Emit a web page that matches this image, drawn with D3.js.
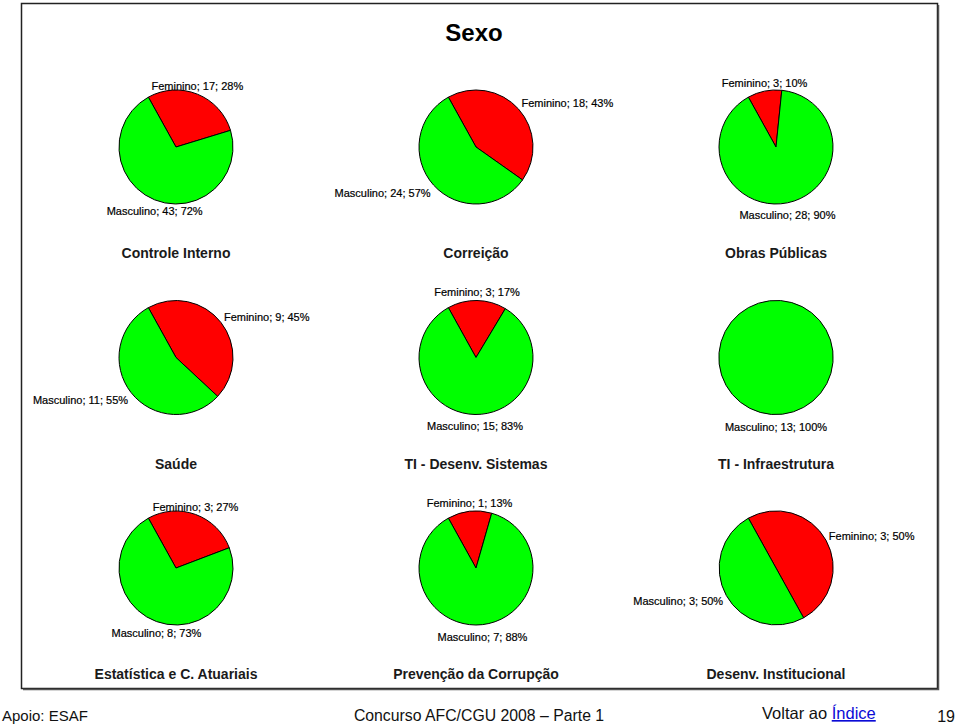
<!DOCTYPE html>
<html>
<head>
<meta charset="utf-8">
<script src="https://cdn.jsdelivr.net/npm/d3@7/dist/d3.min.js"></script>
<style>
  html, body { margin: 0; padding: 0; background: #fff; }
  svg { display: block; }
</style>
</head>
<body>
<svg id="chart" width="960" height="726"></svg>
<script>
// ---- data ----
const chartTitle = "Sexo";
const categories = [
  "Controle Interno", "Correição", "Obras Públicas",
  "Saúde", "TI - Desenv. Sistemas", "TI - Infraestrutura",
  "Estatística e C. Atuariais", "Prevenção da Corrupção", "Desenv. Institucional"
];
const seriesNames = ["Feminino", "Masculino"];
const feminino  = [17, 18, 3, 9, 3, 0, 3, 1, 3];
const masculino = [43, 24, 28, 11, 15, 13, 8, 7, 3];
const seriesColors = ["#ff0000", "#00ff00"];
const footerLeft = "Apoio: ESAF";
const footerCenter = "Concurso AFC/CGU 2008 – Parte 1";
const footerLinkPrefix = "Voltar ao ";
const footerLink = "Índice";
const pageNumber = "19";

// ---- layout ----
const svg = d3.select("#chart");
const radius = 57;
const firstSliceAngle = -29 * Math.PI / 180;

const colX = d3.scalePoint().domain([0, 1, 2]).range([176, 776]);
const rowY = d3.scalePoint().domain([0, 1, 2]).range([147, 568]);
const titleOffset = 111; // category title baseline below pie center

// frame
svg.append("rect")
  .attr("x", 21.5).attr("y", 3.5).attr("width", 916).attr("height", 685)
  .attr("fill", "#fff").attr("stroke", "#222").attr("stroke-width", 1.5);
svg.append("path")
  .attr("d", `M${21.5 + 916 + 1},${5} V${3.5 + 685 + 1} H${23}`)
  .attr("fill", "none").attr("stroke", "#555").attr("stroke-width", 1.5);

// title
svg.append("text")
  .attr("x", 474).attr("y", 41)
  .attr("text-anchor", "middle")
  .attr("font-family", "Liberation Sans, Arial, sans-serif")
  .attr("font-weight", "bold").attr("font-size", 24)
  .attr("fill", "#000")
  .text(chartTitle);

const pie = d3.pie().sort(null).value(d => d.value)
  .startAngle(firstSliceAngle).endAngle(firstSliceAngle + 2 * Math.PI);
const arc = d3.arc().innerRadius(0).outerRadius(radius);

categories.forEach((cat, i) => {
  const cx = colX(i % 3), cy = rowY(Math.floor(i / 3));
  const rows = [
    { name: seriesNames[0], value: feminino[i], color: seriesColors[0] },
    { name: seriesNames[1], value: masculino[i], color: seriesColors[1] }
  ];
  const total = d3.sum(rows, d => d.value);
  const g = svg.append("g").attr("transform", `translate(${cx},${cy})`);
  const arcs = pie(rows);

  g.selectAll("path.slice")
    .data(arcs.filter(a => a.data.value > 0))
    .join("path")
    .attr("class", "slice")
    .attr("d", arc)
    .attr("fill", d => d.data.color)
    .attr("stroke", "#000")
    .attr("stroke-width", 1);

  // labels
  arcs.filter(a => a.data.value > 0).forEach(a => {
    const full = a.data.value === total;
    const theta = full ? Math.PI : (a.startAngle + a.endAngle) / 2;
    const s = Math.sin(theta), c = Math.cos(theta);
    const px = radius * s, py = -radius * c;
    const pct = Math.round(a.data.value / total * 100);
    const t = g.append("text")
      .attr("font-family", "Liberation Sans, Arial, sans-serif")
      .attr("font-size", 11)
      .attr("fill", "#000")
      .attr("stroke", "#000").attr("stroke-width", 0.2)
      .text(`${a.data.name}; ${a.data.value}; ${pct}%`);
    const shift = c > 0 ? -8.5 * c : -12 * c;
    const centerY = py + shift;
    if (Math.abs(s) > 0.55) {
      t.attr("text-anchor", s > 0 ? "start" : "end")
       .attr("x", s > 0 ? px + 3 : px - 3);
    } else {
      t.attr("text-anchor", "middle").attr("x", px);
    }
    t.attr("y", centerY + 4);
  });

  // category title
  svg.append("text")
    .attr("x", cx).attr("y", cy + titleOffset)
    .attr("text-anchor", "middle")
    .attr("font-family", "Liberation Sans, Arial, sans-serif")
    .attr("font-weight", "bold").attr("font-size", 14)
    .attr("fill", "#1a1a1a")
    .text(cat);
});

// footer
const footFont = "Liberation Sans, Arial, sans-serif";
svg.append("text").attr("x", 2).attr("y", 721)
  .attr("font-family", footFont).attr("font-size", 15).attr("fill", "#111")
  .text(footerLeft);
svg.append("text").attr("x", 479).attr("y", 721).attr("text-anchor", "middle")
  .attr("font-family", footFont).attr("font-size", 15.8).attr("fill", "#111")
  .text(footerCenter);
const vt = svg.append("text").attr("x", 762).attr("y", 719)
  .attr("font-family", footFont).attr("font-size", 16.5).attr("fill", "#111");
vt.append("tspan").text(footerLinkPrefix);
vt.append("tspan").attr("fill", "#0b0bd6").attr("text-decoration", "underline").text(footerLink);
svg.append("text").attr("x", 955).attr("y", 722).attr("text-anchor", "end")
  .attr("font-family", footFont).attr("font-size", 16).attr("fill", "#111")
  .text(pageNumber);
</script>
</body>
</html>
